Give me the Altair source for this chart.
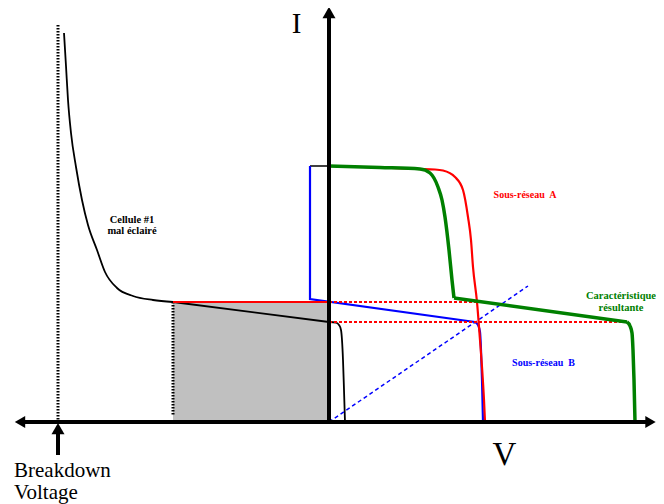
import altair as alt
import pandas as pd

# ---- values (picture units: x to the right, y downward) ----
# Cellule #1 (black curve): steep part, straight part, knee
cell_curve_x = [64, 66, 68, 71, 76, 82, 88, 97, 105, 117, 133, 153, 173]
cell_curve_y = [33, 66, 100, 133, 167, 200, 225, 250, 272, 288, 296, 300, 302]
cell_line_x = [173, 329]
cell_line_y = [302, 322]
cell_knee_x = [329, 336, 339, 341, 343, 344, 345]
cell_knee_y = [322, 322.7, 325, 330, 360, 390, 422]

# Sous-réseau A (red)
a_line_x = [173, 329]
a_line_y = [302, 302]
a_curve_x = [329, 380, 417, 435, 443, 455, 463, 468, 471, 473, 477, 480, 482, 484, 485]
a_curve_y = [166, 167.5, 169, 169.5, 170.5, 177, 190, 217, 240, 267, 302, 340, 367, 400, 422]

# Sous-réseau B (blue)
b_top_x = [310, 329]
b_top_y = [166, 166]
b_line_x = [310, 310, 475]
b_line_y = [166, 299, 322]
b_knee_x = [475, 478, 480, 481, 482, 483]
b_knee_y = [322, 325, 332, 350, 380, 422]

# Caractéristique résultante (green)
g_curve_x = [329, 380, 420, 430, 438, 442, 445, 449, 452, 454]
g_curve_y = [166, 167.5, 169, 173, 187, 200, 217, 250, 280, 298]
g_line_x = [454, 627]
g_line_y = [298, 322]
g_knee_x = [627, 630, 632, 633, 634, 635]
g_knee_y = [322, 326, 333, 350, 380, 422]

# dotted / dashed guides
red_dot1_x = [329, 477]
red_dot1_y = [302, 302]
red_dot2_x = [329, 627]
red_dot2_y = [322, 322]
blue_dash_x = [329, 528]
blue_dash_y = [422, 286]
grey_dot_x = [173, 173]
grey_dot_y = [302, 415]
breakdown_dot_x = [58, 58]
breakdown_dot_y = [25, 422]

# shaded area
shade_x = [173]
shade_x2 = [329]
shade_y = [302]
shade_y2 = [422]

# axes (origin and ends) and arrow heads
axis_origin = (329, 422)
yaxis_top = 17
xaxis_left = 24
xaxis_right = 647
arrow_up_x = [329]
arrow_up_y = [12.5]
arrow_left_x = [20]
arrow_left_y = [422]
arrow_right_x = [650.5]
arrow_right_y = [422]
bd_arrow_x = [58]
bd_arrow_y = [428.6]
bd_shaft_y = [433, 455]

# labels
cell_labels = ["Cellule #1", "mal éclairé"]
cell_label_x = [132, 132]
cell_label_y = [223, 234]
a_label = ["Sous-réseau\u00a0 A"]
a_label_x = [525]
a_label_y = [198]
b_label = ["Sous-réseau\u00a0 B"]
b_label_x = [543.5]
b_label_y = [366]
g_labels = ["Caractéristique", "résultante"]
g_label_x = [621, 621]
g_label_y = [299, 310.5]
i_label = ["I"]
i_label_x = [296.5]
i_label_y = [33]
v_label = ["V"]
v_label_x = [504.5]
v_label_y = [465]
bd_labels = ["Breakdown", "Voltage"]
bd_label_x = [14, 14]
bd_label_y = [477, 499]

BLACK = "#000000"
RED = "#ff0000"
BLUE = "#0000ff"
GREEN = "#008000"
GREY = "#c0c0c0"
SERIF = "Liberation Serif"

XS = alt.Scale(domain=[8, 656], nice=False, zero=False)
YS = alt.Scale(domain=[8, 504], nice=False, zero=False, reverse=True)


def xy(xs, ys):
    return pd.DataFrame({"x": xs, "y": ys, "o": list(range(len(xs)))})


def line(xs, ys, color, width, interp="linear", dash=None):
    kw = dict(color=color, strokeWidth=width, interpolate=interp, strokeCap="butt")
    if dash is not None:
        kw["strokeDash"] = dash
    return alt.Chart(xy(xs, ys)).mark_line(**kw).encode(
        x=alt.X("x:Q", scale=XS, axis=None),
        y=alt.Y("y:Q", scale=YS, axis=None),
        order="o:Q",
    )


def tri(xs, ys, shape, size):
    return alt.Chart(xy(xs, ys)).mark_point(
        shape=shape, size=size, filled=True, color=BLACK, opacity=1, strokeWidth=0
    ).encode(
        x=alt.X("x:Q", scale=XS, axis=None),
        y=alt.Y("y:Q", scale=YS, axis=None),
    )


def text(labels, xs, ys, color, size, bold, align="center"):
    df = pd.DataFrame({"x": xs, "y": ys, "t": labels})
    return alt.Chart(df).mark_text(
        font=SERIF, fontSize=size, fontWeight="bold" if bold else "normal",
        color=color, align=align, baseline="alphabetic",
    ).encode(
        x=alt.X("x:Q", scale=XS, axis=None),
        y=alt.Y("y:Q", scale=YS, axis=None),
        text="t:N",
    )


shade = alt.Chart(pd.DataFrame({"x": shade_x, "x2": shade_x2, "y": shade_y, "y2": shade_y2})).mark_rect(
    color=GREY
).encode(
    x=alt.X("x:Q", scale=XS, axis=None), x2="x2:Q",
    y=alt.Y("y:Q", scale=YS, axis=None), y2="y2:Q",
)

layers = [
    shade,
    line(breakdown_dot_x, breakdown_dot_y, BLACK, 3, dash=[1.5, 1.5]),
    line(grey_dot_x, grey_dot_y, BLACK, 3, dash=[1.5, 1.5]),
    # black cell curve
    line(cell_curve_x, cell_curve_y, BLACK, 1.8, "monotone"),
    line(cell_line_x, cell_line_y, BLACK, 1.8),
    line(cell_knee_x, cell_knee_y, BLACK, 1.8, "monotone"),
    # blue sub-array
    line(b_top_x, b_top_y, BLACK, 1.5),
    line(b_line_x, b_line_y, BLUE, 2.2),
    line(b_knee_x, b_knee_y, BLUE, 2.2, "monotone"),
    line(blue_dash_x, blue_dash_y, BLUE, 1.5, dash=[4, 3]),
    # red sub-array
    line(red_dot1_x, red_dot1_y, RED, 2, dash=[3, 2]),
    line(red_dot2_x, red_dot2_y, RED, 2, dash=[3, 2]),
    line(a_line_x, a_line_y, RED, 2.2),
    line(a_curve_x, a_curve_y, RED, 2.2, "monotone"),
    # green resulting characteristic
    line(g_curve_x, g_curve_y, GREEN, 3.5, "monotone"),
    line(g_line_x, g_line_y, GREEN, 3.5),
    line(g_knee_x, g_knee_y, GREEN, 3.5, "monotone"),
    # axes
    line([axis_origin[0], axis_origin[0]], [axis_origin[1] + 2, yaxis_top], BLACK, 4),
    line([xaxis_left, xaxis_right], [axis_origin[1], axis_origin[1]], BLACK, 4),
    tri(arrow_up_x, arrow_up_y, "triangle-up", 169),
    tri(arrow_left_x, arrow_left_y, "triangle-left", 144),
    tri(arrow_right_x, arrow_right_y, "triangle-right", 144),
    # breakdown arrow
    line([bd_arrow_x[0], bd_arrow_x[0]], bd_shaft_y, BLACK, 4),
    tri(bd_arrow_x, bd_arrow_y, "triangle-up", 169),
    # labels
    text(cell_labels, cell_label_x, cell_label_y, BLACK, 10.5, True),
    text(a_label, a_label_x, a_label_y, RED, 10, True),
    text(b_label, b_label_x, b_label_y, BLUE, 10, True),
    text(g_labels, g_label_x, g_label_y, GREEN, 10.5, True),
    text(i_label, i_label_x, i_label_y, BLACK, 29, False),
    text(v_label, v_label_x, v_label_y, BLACK, 33, False),
    text(bd_labels, bd_label_x, bd_label_y, BLACK, 21, False, align="left"),
]

chart = alt.layer(*layers).properties(
    width=648, height=496, padding=0, autosize="none", background="white"
).configure_view(stroke=None)

chart.save("out.html", embed_options={"renderer": "svg", "actions": False})
